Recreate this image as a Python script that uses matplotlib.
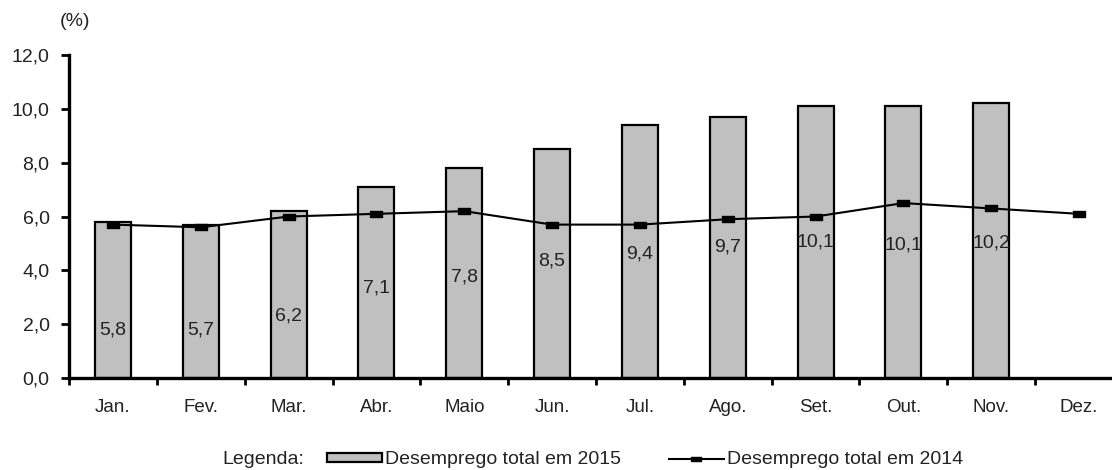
import numpy as np
import matplotlib
matplotlib.use("Agg")
import matplotlib.pyplot as plt
from matplotlib.path import Path
from matplotlib.patches import Patch
from matplotlib.lines import Line2D
from matplotlib.ticker import FuncFormatter

plt.rcParams['font.family'] = ['Liberation Sans', 'DejaVu Sans']

meses = ['Jan.', 'Fev.', 'Mar.', 'Abr.', 'Maio', 'Jun.', 'Jul.', 'Ago.', 'Set.', 'Out.', 'Nov.', 'Dez.']
taxa_2015 = [5.8, 5.7, 6.2, 7.1, 7.8, 8.5, 9.4, 9.7, 10.1, 10.1, 10.2]
taxa_2014 = [5.7, 5.6, 6.0, 6.1, 6.2, 5.7, 5.7, 5.9, 6.0, 6.5, 6.3, 6.1]
# where the value labels sit inside the bars (fraction of bar height)
label_frac = [0.31, 0.31, 0.37, 0.47, 0.48, 0.51, 0.49, 0.5, 0.5, 0.49, 0.49]

fig = plt.figure(figsize=(11.12, 4.70), dpi=100)
ax = fig.add_axes([69 / 1112, 0.1957, 1054 / 1112, 0.6872])

x15 = np.arange(len(taxa_2015))
x14 = np.arange(len(taxa_2014))

ax.bar(x15, taxa_2015, width=0.41, color='#c0c0c0', edgecolor='black', linewidth=1.6, zorder=2)

rect = Path([(-1, -0.45), (1, -0.45), (1, 0.45), (-1, 0.45), (-1, -0.45)],
            [Path.MOVETO, Path.LINETO, Path.LINETO, Path.LINETO, Path.CLOSEPOLY])
ax.plot(x14, taxa_2014, color='black', linewidth=1.5, marker=rect, markersize=9,
        markerfacecolor='black', markeredgecolor='black', zorder=3)

for i, v in enumerate(taxa_2015):
    ax.text(i, v * label_frac[i], f'{v:.1f}'.replace('.', ','), ha='center', va='center',
            fontsize=14, color='#222222', zorder=4)

ax.set_xlim(-0.5, 11.5)
ax.set_ylim(0, 12)
ax.set_yticks(np.arange(0, 13, 2))
ax.yaxis.set_major_formatter(FuncFormatter(lambda v, p: f'{v:.1f}'.replace('.', ',')))
ax.set_xticks(np.arange(-0.5, 12, 1))
ax.set_xticklabels([])
ax.set_xticks(np.arange(12), minor=True)
ax.set_xticklabels(meses, minor=True)
ax.tick_params(axis='x', which='minor', length=0, pad=15, labelsize=13.5, labelcolor='#222222')
ax.tick_params(axis='x', which='major', length=5, width=2, direction='out')
ax.tick_params(axis='y', length=6, width=2, direction='out', labelsize=14, pad=8,
               labelcolor='#222222')

for s in ['top', 'right']:
    ax.spines[s].set_visible(False)
for s in ['left', 'bottom']:
    ax.spines[s].set_linewidth(2.4)

fig.text(60 / 1112, 1 - 22 / 470, '(%)', fontsize=14, va='center', color='#222222')

fig.text(222 / 1112, 1 - 459 / 470, 'Legenda:', fontsize=14, va='center', color='#222222')
handles = [Patch(facecolor='#c0c0c0', edgecolor='black', linewidth=1.6),
           Line2D([0], [0], color='black', linewidth=1.5, marker=rect, markersize=7)]
fig.legend(handles, ['Desemprego total em 2015', 'Desemprego total em 2014'],
           loc='center left', bbox_to_anchor=(327 / 1112, 1 - 460 / 470), ncol=2,
           frameon=False, fontsize=14, handlelength=2.83,
           handleheight=0.4, handletextpad=0.15, columnspacing=2.47,
           borderaxespad=0, borderpad=0, labelcolor='#222222')

fig.savefig('out.png', dpi=100)
